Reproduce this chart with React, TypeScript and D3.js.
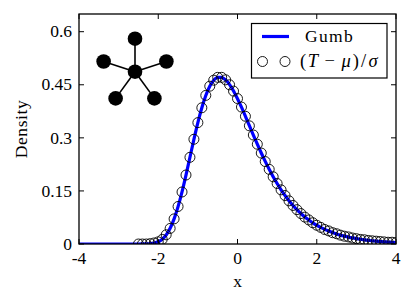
import React from 'react';
import * as d3 from 'd3';

// Gumbel density curve, x from -4 to 4
const curveX = [
  -4.0, -3.9, -3.8, -3.7, -3.6, -3.5, -3.4, -3.3, -3.2, -3.1, -3.0, -2.9, -2.8, -2.7, -2.6,
  -2.5, -2.4, -2.3, -2.2, -2.1, -2.0, -1.9, -1.8, -1.7, -1.6, -1.5, -1.4, -1.3, -1.2, -1.1,
  -1.0, -0.9, -0.8, -0.7, -0.6, -0.5, -0.4, -0.3, -0.2, -0.1, 0.0, 0.1, 0.2, 0.3, 0.4,
  0.5, 0.6, 0.7, 0.8, 0.9, 1.0, 1.1, 1.2, 1.3, 1.4, 1.5, 1.6, 1.7, 1.8, 1.9,
  2.0, 2.1, 2.2, 2.3, 2.4, 2.5, 2.6, 2.7, 2.8, 2.9, 3.0, 3.1, 3.2, 3.3, 3.4,
  3.5, 3.6, 3.7, 3.8, 3.9, 4.0,
];
const curveY = [
  0, 0, 0, 0, 0, 0, 0, 0, 0, 0, 0, 0, 0, 0, 0,
  0.0000, 0.0001, 0.0003, 0.0010, 0.0026, 0.0063, 0.0134, 0.0255, 0.0443, 0.0709, 0.1055, 0.1474, 0.1948, 0.2452, 0.2955,
  0.3429, 0.3849, 0.4195, 0.4455, 0.4626, 0.4708, 0.4709, 0.4637, 0.4505, 0.4324, 0.4107, 0.3866, 0.3608, 0.3344, 0.3080,
  0.2821, 0.2572, 0.2334, 0.2111, 0.1902, 0.1709, 0.1532, 0.1370, 0.1223, 0.1089, 0.0969, 0.0861, 0.0764, 0.0677, 0.0599,
  0.0530, 0.0469, 0.0414, 0.0366, 0.0323, 0.0285, 0.0251, 0.0222, 0.0195, 0.0172, 0.0152, 0.0134, 0.0118, 0.0104, 0.0091,
  0.0080, 0.0071, 0.0062, 0.0055, 0.0048, 0.0042,
];

// (T - mu)/sigma markers
const pointX = [
  -2.5, -2.4, -2.3, -2.2, -2.1, -2.0, -1.9, -1.8, -1.7, -1.6, -1.5, -1.4, -1.3, -1.2, -1.1,
  -1.0, -0.9, -0.8, -0.7, -0.6, -0.5, -0.4, -0.3, -0.2, -0.1, 0.0, 0.1, 0.2, 0.3, 0.4,
  0.5, 0.6, 0.7, 0.8, 0.9, 1.0, 1.1, 1.2, 1.3, 1.4, 1.5, 1.6, 1.7, 1.8, 1.9,
  2.0, 2.1, 2.2, 2.3, 2.4, 2.5, 2.6, 2.7, 2.8, 2.9, 3.0, 3.1, 3.2, 3.3, 3.4,
  3.5, 3.6, 3.7, 3.8, 3.9, 4.0,
];
const pointY = [
  0.000, 0.000, 0.000, 0.001, 0.003, 0.006, 0.013, 0.026, 0.044, 0.071, 0.106, 0.147, 0.195, 0.245, 0.296,
  0.343, 0.385, 0.420, 0.446, 0.463, 0.471, 0.471, 0.464, 0.450, 0.432, 0.411, 0.387, 0.361, 0.334, 0.308,
  0.282, 0.257, 0.233, 0.211, 0.190, 0.171, 0.153, 0.137, 0.122, 0.109, 0.097, 0.086, 0.076, 0.068, 0.060,
  0.053, 0.047, 0.041, 0.037, 0.032, 0.029, 0.025, 0.022, 0.020, 0.017, 0.015, 0.013, 0.012, 0.010, 0.009,
  0.008, 0.007, 0.006, 0.005, 0.005, 0.004,
];

const xTicks = [-4, -2, 0, 2, 4];
const xTickLabels = ['-4', '-2', '0', '2', '4'];
const yTicks = [0, 0.15, 0.3, 0.45, 0.6];
const yTickLabels = ['0', '0.15', '0.3', '0.45', '0.6'];
const xDomain = [-4, 4];
const yDomain = [0, 0.65];
const starAngles = [-90, -18, 54, 126, 198];

const W = 415;
const H = 306;
const left = 79;
const right = 396;
const top = 14;
const bottom = 244;
const FONT = "'Liberation Serif', 'Times New Roman', serif";
const FS = 17.5;
const BLUE = '#0000ff';

export default function App() {
  const x = d3.scaleLinear().domain(xDomain).range([left, right]);
  const y = d3.scaleLinear().domain(yDomain).range([bottom, top]);
  const line = d3
    .line<number>()
    .x((_, i) => x(curveX[i]))
    .y((d) => y(d))
    .curve(d3.curveMonotoneX);
  const tickLen = 5;

  const cx = 135;
  const cy = 71.7;
  const sr = 33;
  const nodes = starAngles.map((a) => [
    cx + sr * Math.cos((a * Math.PI) / 180),
    cy + sr * Math.sin((a * Math.PI) / 180),
  ]);

  return (
    <svg
      width={W}
      height={H}
      style={{ position: 'absolute', left: 0, top: 0, background: '#fff' }}
      fontFamily={FONT}
    >
      <defs>
        <clipPath id="plotclip">
          <rect x={left} y={top} width={right - left} height={bottom - top} />
        </clipPath>
      </defs>
      <rect x={0} y={0} width={W} height={H} fill="#fff" />

      <g clipPath="url(#plotclip)">
        <path d={line(curveY) || ''} fill="none" stroke={BLUE} strokeWidth={3.2} />
        {pointY.map((v, i) => (
          <circle
            key={i}
            cx={x(pointX[i])}
            cy={y(v)}
            r={5}
            fill="none"
            stroke="#000"
            strokeWidth={0.9}
          />
        ))}
      </g>

      {/* star graph inset */}
      <g>
        {nodes.map((n, i) => (
          <line key={'e' + i} x1={cx} y1={cy} x2={n[0]} y2={n[1]} stroke="#000" strokeWidth={1.6} />
        ))}
        <circle cx={cx} cy={cy} r={7.3} fill="#000" />
        {nodes.map((n, i) => (
          <circle key={'n' + i} cx={n[0]} cy={n[1]} r={7.3} fill="#000" />
        ))}
      </g>

      {/* ticks */}
      {xTicks.map((t, i) => (
        <g key={'xt' + i}>
          <line x1={x(t)} x2={x(t)} y1={bottom} y2={bottom - tickLen} stroke="#000" strokeWidth={1} />
          <line x1={x(t)} x2={x(t)} y1={top} y2={top + tickLen} stroke="#000" strokeWidth={1} />
          <text x={x(t)} y={264} fontSize={FS} textAnchor="middle">
            {xTickLabels[i]}
          </text>
        </g>
      ))}
      {yTicks.map((t, i) => (
        <g key={'yt' + i}>
          <line x1={left} x2={left + tickLen} y1={y(t)} y2={y(t)} stroke="#000" strokeWidth={1} />
          <line x1={right} x2={right - tickLen} y1={y(t)} y2={y(t)} stroke="#000" strokeWidth={1} />
          <text x={72} y={y(t) + 5.7} fontSize={FS} textAnchor="end">
            {yTickLabels[i]}
          </text>
        </g>
      ))}

      {/* spines */}
      <rect
        x={left}
        y={top}
        width={right - left}
        height={bottom - top}
        fill="none"
        stroke="#000"
        strokeWidth={1.3}
      />

      {/* axis labels */}
      <text x={(left + right) / 2} y={287} fontSize={FS} textAnchor="middle">
        x
      </text>
      <text
        transform={`translate(27, ${(top + bottom) / 2}) rotate(-90)`}
        fontSize={FS}
        textAnchor="middle"
        letterSpacing={0.6}
      >
        Density
      </text>

      {/* legend */}
      <rect x={251.5} y={23.5} width={135.5} height={54.5} fill="#fff" stroke="#000" strokeWidth={1.2} />
      <line x1={262} x2={289} y1={36.5} y2={36.5} stroke={BLUE} strokeWidth={3.2} />
      <text x={305} y={42.3} fontSize={FS} letterSpacing={1.3}>
        Gumb
      </text>
      <circle cx={262.5} cy={61.5} r={5} fill="none" stroke="#000" strokeWidth={0.9} />
      <circle cx={285} cy={61.5} r={5} fill="none" stroke="#000" strokeWidth={0.9} />
      <text x={300} y={66.7} fontSize={18.5}>
        <tspan>(</tspan>
        <tspan fontStyle="italic" dx={1.5}>T</tspan>
        <tspan dx={6.5}>−</tspan>
        <tspan fontStyle="italic" dx={6.5}>μ</tspan>
        <tspan dx={2}>)</tspan>
        <tspan dx={2}>/</tspan>
        <tspan fontStyle="italic" dx={2.5}>σ</tspan>
      </text>
    </svg>
  );
}
